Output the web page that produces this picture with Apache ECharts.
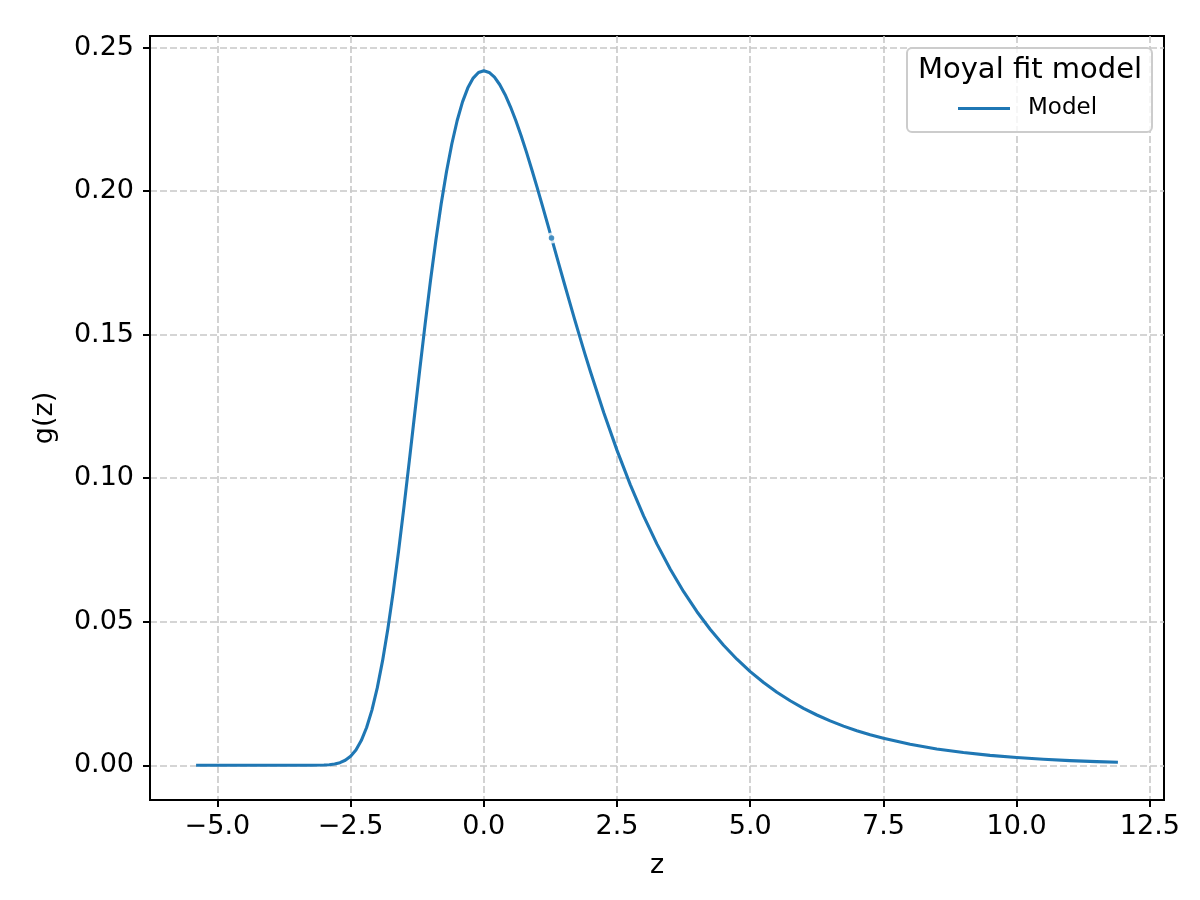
<!DOCTYPE html>
<html>
<head>
<meta charset="utf-8">
<script src="https://cdn.jsdelivr.net/npm/echarts@6/dist/echarts.min.js"></script>
<style>
html,body{margin:0;padding:0;background:#fff;}
#chart{width:1200px;height:900px;}
</style>
</head>
<body>
<div id="chart"></div>
<script>
// ---- data ----
const zValues = [-5.4,-5.0,-4.5,-4.0,-3.5,-3.25,-3.0,-2.9,-2.8,-2.7,-2.6,-2.5,-2.4,-2.3,-2.2,-2.1,
  -2.0,-1.9,-1.8,-1.7,-1.6,-1.5,-1.4,-1.3,-1.2,-1.1,-1.0,-0.9,-0.8,-0.7,-0.6,-0.5,-0.4,-0.3,-0.2,-0.1,
  0.0,0.1,0.2,0.3,0.4,0.5,0.6,0.7,0.8,0.9,1.0,1.1,1.2,1.3,1.4,1.5,1.6,1.7,1.8,1.9,2.0,
  2.25,2.5,2.75,3.0,3.25,3.5,3.75,4.0,4.25,4.5,4.75,5.0,5.25,5.5,5.75,6.0,6.25,6.5,6.75,7.0,7.25,7.5,8.0,8.5,9.0,9.5,10.0,10.5,11.0,11.5,11.9];
const gValues = [0,0,0,0,0,0.000005,0.000078,0.000192,0.000435,0.000904,0.001745,0.003150,0.005351,0.008600,0.013149,0.019216,
  0.026960,0.036445,0.047656,0.060450,0.074612,0.089836,0.105764,0.122019,0.138208,0.153966,0.168962,0.182923,0.195595,0.206838,0.216535,0.224630,0.231113,0.236013,0.239396,0.241346,
  0.241971,0.241386,0.239715,0.237082,0.233611,0.229419,0.224619,0.219318,0.213610,0.207583,0.201316,0.194879,0.188335,0.181735,0.175128,0.168553,0.162044,0.155629,0.149331,0.143170,0.137160,
  0.122868,0.109703,0.097695,0.086827,0.077048,0.068287,0.060465,0.053499,0.047309,0.041815,0.036948,0.032637,0.028824,0.025451,0.022471,0.019838,0.017511,0.015457,0.013643,0.012041,0.010628,0.009380,0.007306,0.005690,0.004432,0.003452,0.002688,0.002094,0.001630,0.001270,0.001040];
const meanZ = [1.2704];
const meanG = [0.1837];
const xTicks = [-5.0,-2.5,0.0,2.5,5.0,7.5,10.0,12.5];
const yTicks = [0.00,0.05,0.10,0.15,0.20,0.25];
const seriesName = 'Model';
const legendTitle = 'Moyal fit model';
const xLabel = 'z';
const yLabel = 'g(z)';

// ---- chart ----
const FONT = 'DejaVu Sans';
const zMin = Math.min(...zValues), zMax = Math.max(...zValues);
const gMin = Math.min(...gValues), gMax = Math.max(...gValues);
const xPad = (zMax - zMin) * 0.05, yPad = (gMax - gMin) * 0.05;
const fmt = (v, d) => (v < 0 ? '\u2212' : '') + Math.abs(v).toFixed(d);
const meanData = meanZ.map((z, i) => [z, meanG[i]]);

const chart = echarts.init(document.getElementById('chart'), null, {renderer: 'canvas'});
chart.setOption({
  animation: false,
  backgroundColor: '#ffffff',
  grid: {left: 150, right: 36, top: 36, bottom: 100, show: true, borderColor: '#000', borderWidth: 2, backgroundColor: 'transparent'},
  xAxis: {
    type: 'value', min: zMin - xPad, max: zMax + xPad,
    name: xLabel, nameLocation: 'middle', nameGap: 52,
    nameTextStyle: {fontFamily: FONT, fontSize: 27, color: '#000'},
    axisLine: {show: true, onZero: false, lineStyle: {color: '#000', width: 2}},
    axisTick: {show: true, inside: false, length: 7, lineStyle: {color: '#000', width: 2}, customValues: xTicks},
    axisLabel: {fontFamily: FONT, fontSize: 27, color: '#000', margin: 13, customValues: xTicks, formatter: v => fmt(v, 1)},
    splitLine: {show: true, lineStyle: {color: '#c8c8c8', width: 1.6, type: [7, 3]}}
  },
  yAxis: {
    type: 'value', min: gMin - yPad, max: gMax + yPad,
    name: yLabel, nameLocation: 'middle', nameGap: 92, nameRotate: 90,
    nameTextStyle: {fontFamily: FONT, fontSize: 27, color: '#000'},
    axisLine: {show: true, onZero: false, lineStyle: {color: '#000', width: 2}},
    axisTick: {show: true, inside: false, length: 7, lineStyle: {color: '#000', width: 2}, customValues: yTicks},
    axisLabel: {fontFamily: FONT, fontSize: 27, color: '#000', margin: 16, customValues: yTicks, formatter: v => fmt(v, 2)},
    splitLine: {show: true, lineStyle: {color: '#c8c8c8', width: 1.6, type: [7, 3]}}
  },
  legend: {
    data: [seriesName], left: 958, top: 97, z: 10, padding: 0,
    icon: 'rect', itemWidth: 52, itemHeight: 3,
    itemStyle: {color: '#1f77b4'},
    textStyle: {fontFamily: FONT, fontSize: 23, color: '#000', padding: [0, 0, 0, 13]}
  },
  graphic: [
    {type: 'rect', z: 5, shape: {x: 907, y: 48, width: 245, height: 84, r: 5},
     style: {fill: 'rgba(255,255,255,0.8)', stroke: '#cccccc', lineWidth: 2}},
    {type: 'text', z: 11, x: 1030, y: 70,
     style: {text: legendTitle, fontFamily: FONT, fontSize: 29, fill: '#000', textAlign: 'center', textVerticalAlign: 'middle'}}
  ],
  series: [
    {name: seriesName, type: 'line', data: zValues.map((z, i) => [z, gValues[i]]),
     showSymbol: false, symbol: 'none', smooth: false,
     lineStyle: {color: '#1f77b4', width: 3.1, join: 'round', cap: 'butt'}, itemStyle: {color: '#1f77b4'}, z: 3},
    {name: 'meanHalo', type: 'scatter', data: meanData,
     symbol: 'circle', symbolSize: 11, itemStyle: {color: '#ffffff'}, z: 4},
    {name: 'mean', type: 'scatter', data: meanData,
     symbol: 'circle', symbolSize: 5.5, itemStyle: {color: '#1f77b4'}, z: 5}
  ]
});
</script>
</body>
</html>
